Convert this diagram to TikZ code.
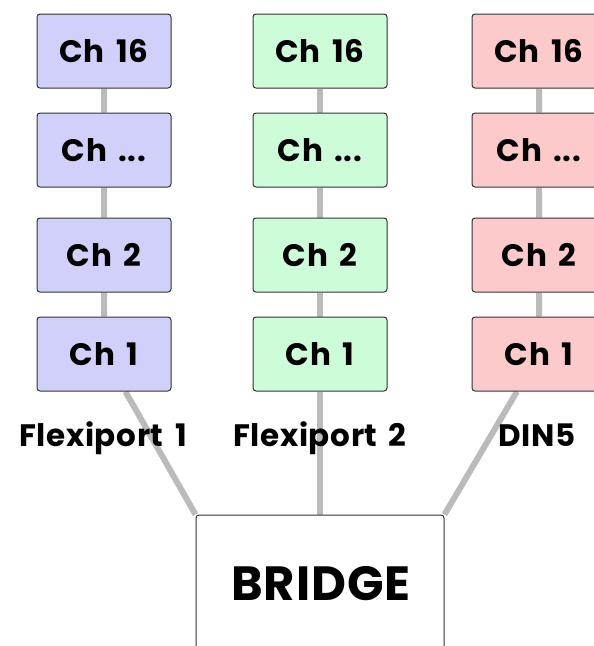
\documentclass[tikz,border=0pt]{standalone}
\usepackage{fontspec}
\setmainfont{Poppins}[LetterSpace=2, WordSpace=1.6]
\usepackage{xcolor}
\usepackage{tikz}
\usetikzlibrary{backgrounds}
\definecolor{wire}{HTML}{BBBBBB}
\definecolor{edge}{HTML}{333333}
\definecolor{flexa}{HTML}{D0D0FA}
\definecolor{flexb}{HTML}{CCFCD8}
\definecolor{dinc}{HTML}{FCCACA}
\tikzset{
  chan/.style={draw=edge, line width=1pt, rounded corners=3pt, minimum width=134pt, minimum height=74pt, inner sep=0pt, font=\bfseries\fontsize{31}{34}\selectfont},
  link/.style={draw=wire, line width=6pt},
  port/.style={anchor=base, font=\bfseries\fontsize{31}{34}\selectfont},
  hub/.style={draw=edge, line width=1pt, fill=white, rounded corners=3pt, minimum width=248pt, minimum height=180pt, inner sep=0pt},
}

\begin{document}
\begin{tikzpicture}[x=1pt, y=-1pt]
  \useasboundingbox (0,0) rectangle (594,646);
  % Flexiport 1
  \node[chan, fill=flexa] (a16) at (104,51) {Ch 16};
  \node[chan, fill=flexa] (ax)  at (104,150) {Ch ...};
  \node[chan, fill=flexa] (a2)  at (104,255) {Ch 2};
  \node[chan, fill=flexa] (a1)  at (104,354) {Ch 1};
  % Flexiport 2
  \node[chan, fill=flexb] (b16) at (320,51) {Ch 16};
  \node[chan, fill=flexb] (bx)  at (320,150) {Ch ...};
  \node[chan, fill=flexb] (b2)  at (320,255) {Ch 2};
  \node[chan, fill=flexb] (b1)  at (320,354) {Ch 1};
  % DIN5
  \node[chan, fill=dinc] (c16) at (539,51) {Ch 16};
  \node[chan, fill=dinc] (cx)  at (539,150) {Ch ...};
  \node[chan, fill=dinc] (c2)  at (539,255) {Ch 2};
  \node[chan, fill=dinc] (c1)  at (539,354) {Ch 1};
  % bridge
  \node[hub] (bridge) at (320,605) {};
  \node[anchor=base, font=\bfseries\fontsize{48}{52}\selectfont] (btxt) at (321,600) {BRIDGE};
  \begin{pgfonlayer}{background}
    \draw[link] (a16)--(ax)--(a2)--(a1)--(bridge.north west);
    \draw[link] (b16)--(bx)--(b2)--(b1)--(bridge.north);
    \draw[link] (c16)--(cx)--(c2)--(c1)--(bridge.north east);
  \end{pgfonlayer}
  \node[port] (pa) at (103,446) {Flexiport 1};
  \node[port] (pb) at (320,446) {Flexiport 2};
  \node[port] (pc) at (537,446) {DIN5};
\end{tikzpicture}
\end{document}
